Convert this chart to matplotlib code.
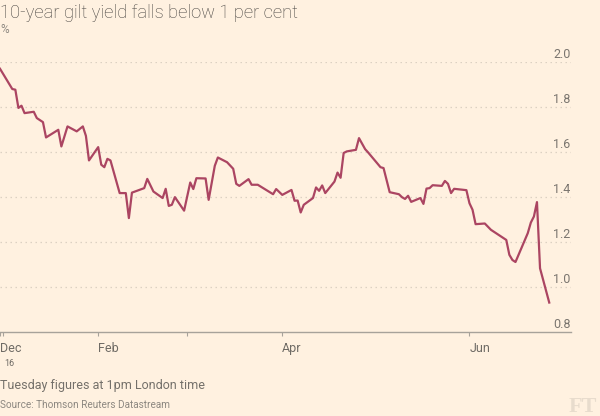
import numpy as np
import matplotlib
matplotlib.use('Agg')
import matplotlib.pyplot as plt
import matplotlib.transforms as mtransforms

# gilt yield
dates = ["2015-12-31", "2016-01-04", "2016-01-05", "2016-01-06", "2016-01-07",
         "2016-01-08", "2016-01-11", "2016-01-12", "2016-01-14", "2016-01-15",
         "2016-01-19", "2016-01-20", "2016-01-22", "2016-01-25", "2016-01-27",
         "2016-01-28", "2016-01-29", "2016-02-01", "2016-02-02", "2016-02-03",
         "2016-02-04", "2016-02-05", "2016-02-08", "2016-02-10", "2016-02-11",
         "2016-02-12", "2016-02-16", "2016-02-17", "2016-02-19", "2016-02-22",
         "2016-02-23", "2016-02-24", "2016-02-25", "2016-02-26", "2016-02-29",
         "2016-03-02", "2016-03-03", "2016-03-04", "2016-03-07", "2016-03-08",
         "2016-03-10", "2016-03-11", "2016-03-14", "2016-03-16", "2016-03-17",
         "2016-03-18", "2016-03-21", "2016-03-22", "2016-03-24", "2016-03-29",
         "2016-03-30", "2016-04-01", "2016-04-04", "2016-04-05", "2016-04-06",
         "2016-04-07", "2016-04-08", "2016-04-11", "2016-04-12", "2016-04-13",
         "2016-04-14", "2016-04-15", "2016-04-18", "2016-04-19", "2016-04-20",
         "2016-04-21", "2016-04-22", "2016-04-25", "2016-04-26", "2016-04-28",
         "2016-04-29", "2016-05-03", "2016-05-04", "2016-05-06", "2016-05-09",
         "2016-05-10", "2016-05-11", "2016-05-12", "2016-05-13", "2016-05-16",
         "2016-05-17", "2016-05-18", "2016-05-19", "2016-05-20", "2016-05-23",
         "2016-05-24", "2016-05-25", "2016-05-26", "2016-05-27", "2016-05-31",
         "2016-06-01", "2016-06-02", "2016-06-03", "2016-06-06", "2016-06-08",
         "2016-06-10", "2016-06-13", "2016-06-14", "2016-06-15", "2016-06-16",
         "2016-06-20", "2016-06-21", "2016-06-22", "2016-06-23", "2016-06-24",
         "2016-06-27"]
yields = [1.97, 1.88, 1.877, 1.796, 1.806, 1.773, 1.779, 1.751, 1.733, 1.665,
          1.699, 1.625, 1.714, 1.692, 1.714, 1.672, 1.563, 1.622, 1.544, 1.533,
          1.570, 1.563, 1.418, 1.418, 1.307, 1.420, 1.440, 1.481, 1.425, 1.396,
          1.437, 1.361, 1.366, 1.400, 1.340, 1.465, 1.436, 1.484, 1.483, 1.388,
          1.539, 1.576, 1.555, 1.526, 1.459, 1.450, 1.480, 1.455, 1.455, 1.413,
          1.436, 1.410, 1.432, 1.384, 1.385, 1.332, 1.366, 1.396, 1.443, 1.428,
          1.452, 1.418, 1.469, 1.509, 1.486, 1.596, 1.603, 1.610, 1.662, 1.613,
          1.598, 1.533, 1.529, 1.422, 1.413, 1.400, 1.392, 1.406, 1.379, 1.396,
          1.370, 1.438, 1.440, 1.453, 1.450, 1.472, 1.459, 1.418, 1.437, 1.431,
          1.373, 1.344, 1.280, 1.283, 1.255, 1.237, 1.210, 1.144, 1.121, 1.112,
          1.240, 1.287, 1.314, 1.378, 1.084, 0.932]

yticks = [0.8, 1.0, 1.2, 1.4, 1.6, 1.8, 2.0]
xtick_dates = ["2015-12-31", "2016-01-01", "2016-02-01", "2016-03-01",
               "2016-04-01", "2016-06-01"]
xtick_labels = ["Dec", "", "Feb", "", "Apr", "Jun"]

bg = '#fff1e0'
line_col = '#ab4562'
axis_col = '#a7a29a'
grid_col = '#dcd1c2'

plt.rcParams['font.family'] = ['Roboto', 'DejaVu Sans']

x = np.array(dates, dtype='datetime64[D]')
fig = plt.figure(figsize=(6, 4.16), dpi=100, facecolor=bg)
ax = fig.add_axes([0.0, 0.2012, 0.9512, 0.6498])
ax.set_facecolor(bg)

ax.plot(x, yields, color=line_col, lw=1.6, solid_joinstyle='round', zorder=3)

ax.set_xlim(np.datetime64('2015-12-31'), np.datetime64('2016-07-04'))
ax.set_ylim(0.8, 2.0)

for sp in ['left', 'right', 'top']:
    ax.spines[sp].set_visible(False)
ax.spines['bottom'].set_color(axis_col)
ax.spines['bottom'].set_linewidth(1)

# dotted gridlines with the labels sitting on top of them, right aligned
ax.set_yticks(yticks)
ax.tick_params(axis='y', length=0, labelleft=False)
for v in yticks[1:]:
    ax.axhline(v, color=grid_col, lw=0.9, ls=(0, (1.2, 2.8)), zorder=1)
trans = mtransforms.offset_copy(
        mtransforms.blended_transform_factory(ax.transAxes, ax.transData),
        fig=fig, x=0, y=4, units='dots')
for v in yticks:
    ax.text(1.0, v, '{0:.1f}'.format(v), transform=trans, ha='right',
            va='baseline', fontsize=9, color='#7a756f', clip_on=False)

ax.set_xticks(np.array(xtick_dates, dtype='datetime64[D]'))
ax.set_xticklabels(xtick_labels)
ax.tick_params(axis='x', length=3, width=0.8, color=axis_col, pad=4,
               labelsize=9, labelcolor='#6f6b65')
for lbl in ax.get_xticklabels():
    lbl.set_horizontalalignment('left')

fig.text(0.0, (416 - 18.5) / 416., '10-year gilt yield falls below 1 per cent',
         fontsize=13.2, weight='light', color='#45423f', va='baseline')
fig.text(0.0, (416 - 33) / 416., '%', fontsize=8.5, color='#8c8780',
         va='baseline')
fig.text(4.5 / 600., (416 - 366.5) / 416., '16', fontsize=6.5, color='#6f6b65',
         va='baseline')
fig.text(0.0, (416 - 389) / 416., 'Tuesday figures at 1pm London time',
         fontsize=9, color='#74706a', va='baseline')
fig.text(0.0, (416 - 408.5) / 416., 'Source: Thomson Reuters Datastream',
         fontsize=7.2, color='#8c8780', va='baseline')
fig.text(597 / 600., (416 - 412.5) / 416., 'FT', fontsize=16,
         family='Liberation Serif', weight='bold', color='#e8dccd',
         ha='right', va='baseline')

fig.savefig('out.png', dpi=100, facecolor=bg)
